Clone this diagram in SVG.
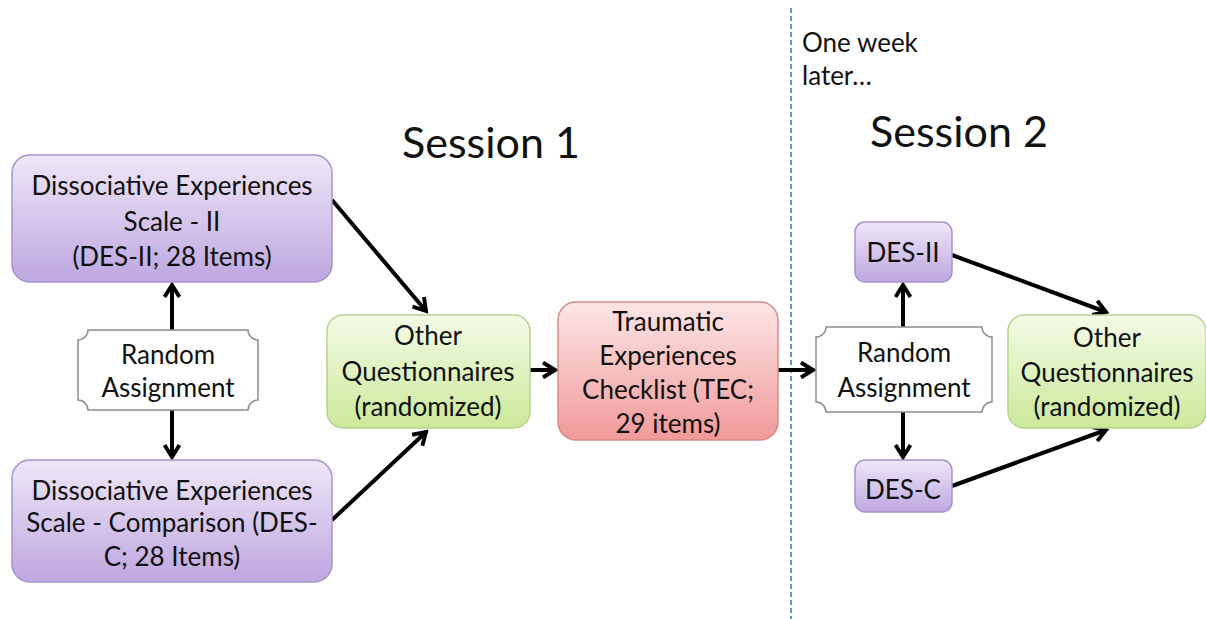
<svg xmlns="http://www.w3.org/2000/svg" width="1206" height="619" viewBox="0 0 1206 619">
<defs>
<linearGradient id="gPurple" x1="0" y1="0" x2="0" y2="1"><stop offset="0" stop-color="#efe7f8"/><stop offset="1" stop-color="#bea6e0"/></linearGradient>
<linearGradient id="gGreen" x1="0" y1="0" x2="0" y2="1"><stop offset="0" stop-color="#f4fbe6"/><stop offset="1" stop-color="#cbe99a"/></linearGradient>
<linearGradient id="gRed" x1="0" y1="0" x2="0" y2="1"><stop offset="0" stop-color="#fde6e6"/><stop offset="1" stop-color="#f19999"/></linearGradient>
<marker id="arr" viewBox="0 0 12 12" refX="10" refY="6" markerWidth="4.5" markerHeight="4.5" orient="auto" markerUnits="strokeWidth">
<polyline points="2,1 10,6 2,11" fill="none" stroke="#000" stroke-width="2.6" stroke-linejoin="miter"/>
</marker>
<style>
text{font-family:"Lato","Liberation Sans",sans-serif;fill:#111;text-anchor:middle}
.t{font-size:26px}
.h{font-size:43px}
.n{font-size:26px;text-anchor:start}
.p{fill:url(#gPurple);stroke:#a594cc;stroke-width:1.5}
.g{fill:url(#gGreen);stroke:#b8d290;stroke-width:1.5}
.r{fill:url(#gRed);stroke:#d98a8a;stroke-width:1.5}
.w{fill:#fff;stroke:#8c8c8c;stroke-width:1.5}
.c{stroke:#000;stroke-width:4;fill:none;marker-end:url(#arr)}
</style>
</defs>
<rect width="1206" height="619" fill="#fff"/>
<line x1="791" y1="8" x2="791" y2="619" stroke="#6f90c0" stroke-width="2" stroke-dasharray="5 3"/>
<text class="n" x="802" y="52">One week</text>
<text class="n" x="802" y="85">later…</text>
<text class="h" x="491" y="158">Session 1</text>
<text class="h" x="959" y="147">Session 2</text>
<g id="connectors">
<line class="c" x1="332" y1="200" x2="426" y2="311"/>
<line class="c" x1="332" y1="520" x2="426" y2="432"/>
<line class="c" x1="172" y1="330" x2="172" y2="285"/>
<line class="c" x1="172" y1="410" x2="172" y2="457"/>
<line class="c" x1="530" y1="370" x2="555" y2="370"/>
<line class="c" x1="778" y1="370" x2="813" y2="370"/>
<line class="c" x1="903" y1="327" x2="903" y2="285"/>
<line class="c" x1="903" y1="412" x2="903" y2="457"/>
<line class="c" x1="952" y1="255" x2="1106" y2="312"/>
<line class="c" x1="952" y1="486" x2="1106" y2="430"/>
</g>
<g id="desII-1">
<rect class="p" x="12" y="155" width="320" height="127" rx="18"/>
<text class="t" x="172" y="195">Dissociative Experiences</text>
<text class="t" x="172" y="231">Scale - II</text>
<text class="t" x="172" y="266">(DES-II; 28 Items)</text>
</g>
<g id="desC-1">
<rect class="p" x="12" y="460" width="320" height="122" rx="18"/>
<text class="t" x="172" y="500">Dissociative Experiences</text>
<text class="t" x="172" y="532">Scale - Comparison (DES-</text>
<text class="t" x="172" y="566">C; 28 Items)</text>
</g>
<g id="random-1">
<path class="w" d="M88,330 L248,330 A10,10 0 0 0 258,340 L258,400 A10,10 0 0 0 248,410 L88,410 A10,10 0 0 0 78,400 L78,340 A10,10 0 0 0 88,330 Z"/>
<text class="t" x="168" y="364">Random</text>
<text class="t" x="168" y="397">Assignment</text>
</g>
<g id="other-1">
<rect class="g" x="327" y="315" width="203" height="113" rx="16"/>
<text class="t" x="428" y="345">Other</text>
<text class="t" x="428" y="381">Questionnaires</text>
<text class="t" x="428" y="416">(randomized)</text>
</g>
<g id="tec">
<rect class="r" x="558" y="302" width="220" height="138" rx="18"/>
<text class="t" x="668" y="331">Traumatic</text>
<text class="t" x="668" y="365">Experiences</text>
<text class="t" x="668" y="399">Checklist (TEC;</text>
<text class="t" x="668" y="433">29 items)</text>
</g>
<g id="random-2">
<path class="w" d="M826,327 L982,327 A10,10 0 0 0 992,337 L992,402 A10,10 0 0 0 982,412 L826,412 A10,10 0 0 0 816,402 L816,337 A10,10 0 0 0 826,327 Z"/>
<text class="t" x="904" y="362">Random</text>
<text class="t" x="904" y="397">Assignment</text>
</g>
<g id="desII-2">
<rect class="p" x="855" y="222" width="97" height="60" rx="10"/>
<text class="t" x="903" y="262">DES-II</text>
</g>
<g id="desC-2">
<rect class="p" x="855" y="460" width="97" height="52" rx="10"/>
<text class="t" x="903" y="499">DES-C</text>
</g>
<g id="other-2">
<rect class="g" x="1008" y="315" width="198" height="113" rx="16"/>
<text class="t" x="1107" y="347">Other</text>
<text class="t" x="1107" y="382">Questionnaires</text>
<text class="t" x="1107" y="416">(randomized)</text>
</g>
</svg>
